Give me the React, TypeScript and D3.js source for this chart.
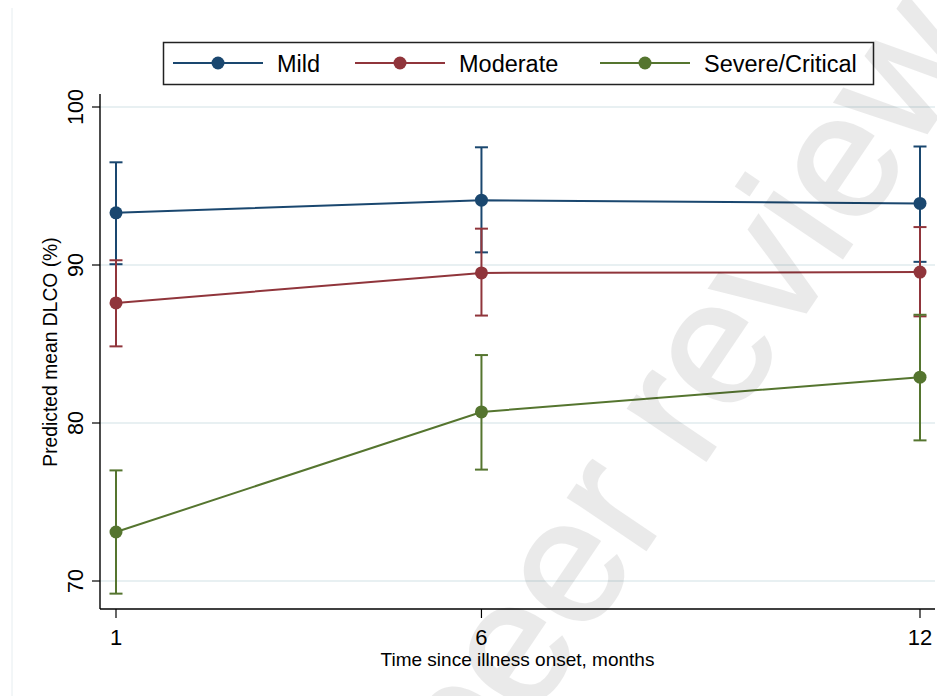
import React from "react";
import * as d3 from "d3";

// time points (months since onset)
const months = [1, 6, 12];
const xTicks = [1, 6, 12];
const yTicks = [70, 80, 90, 100];

const groups = ["Mild", "Moderate", "Severe/Critical"];
const colors = ["#1a476f", "#90353b", "#55752f"];

// predicted mean DLCO and 95% CI per group
const mildMean = [93.3, 94.1, 93.9];
const mildLo = [90.05, 90.8, 90.2];
const mildHi = [96.5, 97.45, 97.5];

const moderateMean = [87.6, 89.5, 89.55];
const moderateLo = [84.85, 86.8, 86.75];
const moderateHi = [90.3, 92.3, 92.4];

const severeMean = [73.1, 80.7, 82.9];
const severeLo = [69.2, 77.05, 78.9];
const severeHi = [77.0, 84.3, 86.85];

const W = 937;
const H = 696;
const plot = { left: 100, right: 935, top: 94, bottom: 609 };
const font = "'Liberation Sans', Arial, Helvetica, sans-serif";

export default function App() {
  const x = d3.scaleLinear().domain([1, 12]).range([116, 920]);
  const y = d3.scaleLinear().domain([70, 100]).range([581, 107]);

  const series = [
    { name: groups[0], color: colors[0], mean: mildMean, lo: mildLo, hi: mildHi },
    { name: groups[1], color: colors[1], mean: moderateMean, lo: moderateLo, hi: moderateHi },
    { name: groups[2], color: colors[2], mean: severeMean, lo: severeLo, hi: severeHi },
  ];

  const line = d3
    .line<number>()
    .x((_, i) => x(months[i]))
    .y(d => y(d));

  const legendX = [173, 355, 600];
  const cap = 6.5;

  return (
    <svg
      width={W}
      height={H}
      style={{ position: "absolute", left: 0, top: 0, background: "#fff" }}
      fontFamily={font}
    >
      <rect width={W} height={H} fill="#fff" />
      {/* faint graph region edge */}
      <line x1={12} x2={12} y1={8} y2={H} stroke="#e6edf0" strokeWidth={1} />

      {/* grid */}
      {yTicks.map(t => (
        <line
          key={"g" + t}
          x1={plot.left}
          x2={plot.right}
          y1={y(t)}
          y2={y(t)}
          stroke="#e8f0f2"
          strokeWidth={2}
        />
      ))}

      {/* axes */}
      <line x1={plot.left} x2={plot.left} y1={plot.top} y2={plot.bottom} stroke="#000" strokeWidth={1.4} />
      <line x1={plot.left} x2={plot.right} y1={plot.bottom} y2={plot.bottom} stroke="#000" strokeWidth={1.4} />
      {yTicks.map(t => (
        <g key={"y" + t}>
          <line x1={plot.left - 8} x2={plot.left} y1={y(t)} y2={y(t)} stroke="#000" strokeWidth={1.2} />
          <text
            transform={`translate(83,${y(t)}) rotate(-90)`}
            textAnchor="middle"
            fontSize={21.5}
            fill="#000"
          >
            {t}
          </text>
        </g>
      ))}
      {xTicks.map(t => (
        <g key={"x" + t}>
          <line x1={x(t)} x2={x(t)} y1={plot.bottom} y2={plot.bottom + 9} stroke="#000" strokeWidth={1.2} />
          <text x={x(t)} y={645} textAnchor="middle" fontSize={22} fill="#000">
            {t}
          </text>
        </g>
      ))}
      <text x={(plot.left + plot.right) / 2} y={666} textAnchor="middle" fontSize={19} fill="#000">
        Time since illness onset, months
      </text>
      <text transform="translate(57,352) rotate(-90)" textAnchor="middle" fontSize={19.3} fill="#000">
        Predicted mean DLCO (%)
      </text>

      {/* error bars */}
      {series.map(s =>
        months.map((m, i) => (
          <g key={s.name + "ci" + m} stroke={s.color} strokeWidth={2}>
            <line x1={x(m)} x2={x(m)} y1={y(s.lo[i])} y2={y(s.hi[i])} />
            <line x1={x(m) - cap} x2={x(m) + cap} y1={y(s.lo[i])} y2={y(s.lo[i])} />
            <line x1={x(m) - cap} x2={x(m) + cap} y1={y(s.hi[i])} y2={y(s.hi[i])} />
          </g>
        ))
      )}

      {/* lines + markers */}
      {series.map(s => (
        <g key={s.name + "l"}>
          <path d={line(s.mean) || ""} fill="none" stroke={s.color} strokeWidth={2} />
          {s.mean.map((v, i) => (
            <circle key={i} cx={x(months[i])} cy={y(v)} r={6.5} fill={s.color} />
          ))}
        </g>
      ))}

      {/* legend */}
      <rect x={163.5} y={42.5} width={710} height={42} fill="#fff" stroke="#222" strokeWidth={1.5} />
      {series.map((s, i) => (
        <g key={s.name + "leg"}>
          <line x1={legendX[i]} x2={legendX[i] + 90} y1={63} y2={63} stroke={s.color} strokeWidth={2} />
          <circle cx={legendX[i] + 45} cy={63} r={6.5} fill={s.color} />
          <text x={legendX[i] + 104} y={72} fontSize={23.5} fill="#000">
            {s.name}
          </text>
        </g>
      ))}

      {/* watermark */}
      <g opacity={0.08}>
        <text
          transform="translate(300,1062) rotate(-56)"
          fontSize={176}
          fill="#000"
          stroke="#000"
          strokeWidth={3}
        >
          For peer review only
        </text>
      </g>
    </svg>
  );
}
